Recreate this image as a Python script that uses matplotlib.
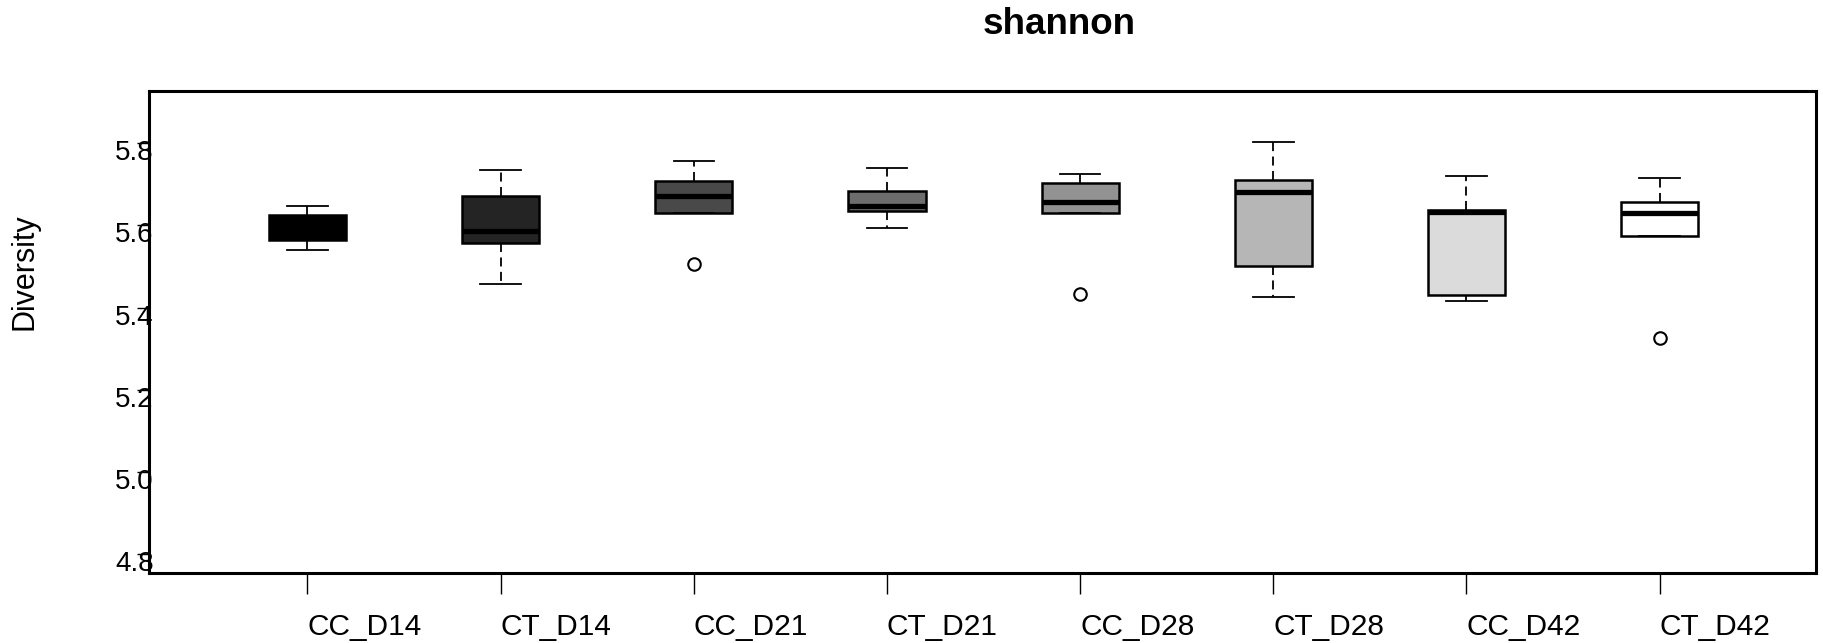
import matplotlib
matplotlib.use("Agg")
import matplotlib.pyplot as plt
from matplotlib.transforms import ScaledTranslation

plt.rcParams["font.family"] = ["Liberation Sans", "DejaVu Sans"]

# shannon diversity per group (box plot summary)
groups = ["CC_D14", "CT_D14", "CC_D21", "CT_D21", "CC_D28", "CT_D28", "CC_D42", "CT_D42"]
whislo = [5.539, 5.457, 5.629, 5.594, 5.629, 5.425, 5.415, 5.575]
q1 = [5.564, 5.556, 5.629, 5.635, 5.629, 5.502, 5.430, 5.575]
med = [5.600, 5.585, 5.671, 5.648, 5.657, 5.680, 5.633, 5.629]
q3 = [5.626, 5.671, 5.707, 5.684, 5.703, 5.711, 5.638, 5.657]
whishi = [5.648, 5.734, 5.757, 5.739, 5.725, 5.802, 5.720, 5.716]
outliers = [[], [], [5.506], [], [5.434], [], [], [5.325]]
fills = ["#000000", "#242424", "#494949", "#6D6D6D", "#929292", "#B6B6B6", "#DBDBDB", "#FFFFFF"]
yticks = [4.8, 5.0, 5.2, 5.4, 5.6, 5.8]

stats = []
for i, g in enumerate(groups):
    stats.append(dict(label=g, whislo=whislo[i], q1=q1[i], med=med[i],
                      q3=q3[i], whishi=whishi[i], fliers=outliers[i]))

fig = plt.figure(figsize=(18.23, 6.43), dpi=100)
ax = fig.add_axes([0.0820, 0.1089, 0.9142, 0.7494])

bp = ax.bxp(stats, positions=range(1, len(groups) + 1), widths=0.40,
            patch_artist=True, capwidths=0.21,
            boxprops=dict(edgecolor="black", linewidth=1.8),
            whiskerprops=dict(color="black", linewidth=1.3, linestyle=(0, (5, 3))),
            capprops=dict(color="black", linewidth=1.3),
            medianprops=dict(color="black", linewidth=3.8, solid_capstyle="butt"),
            flierprops=dict(marker="o", markerfacecolor="none", markeredgecolor="black",
                            markersize=9, markeredgewidth=1.5))
for box, c in zip(bp["boxes"], fills):
    box.set_facecolor(c)

ax.set_xlim(0.182, 8.81)
ax.set_ylim(4.755, 5.926)

for s in ax.spines.values():
    s.set_linewidth(2.2)

ax.set_xticks(range(1, len(groups) + 1))
ax.set_xticklabels(groups, ha="left", fontsize=21.5)
ax.tick_params(axis="x", length=15, width=1.0, pad=14)

ax.set_yticks(yticks)
ax.set_yticklabels([f"{v:.1f}" for v in yticks], fontsize=20)
ax.tick_params(axis="y", length=9, width=1.0, pad=-12)

# R-style labels sit a little below their tick marks
shift = ScaledTranslation(0, -0.07, fig.dpi_scale_trans)
for t in ax.yaxis.get_major_ticks():
    t.label1.set_transform(t.label1.get_transform() + shift)
    t.label1.set_zorder(1)
    t.tick1line.set_zorder(3)

fig.text(25 / 1823, 1 - 272 / 643, "Diversity", rotation=90, ha="center",
         va="center", fontsize=22)
fig.text(1059.5 / 1823, 1 - 24 / 643, "shannon", ha="center", va="center",
         fontsize=26.5, fontweight="bold")

fig.savefig("out.png", dpi=100)
